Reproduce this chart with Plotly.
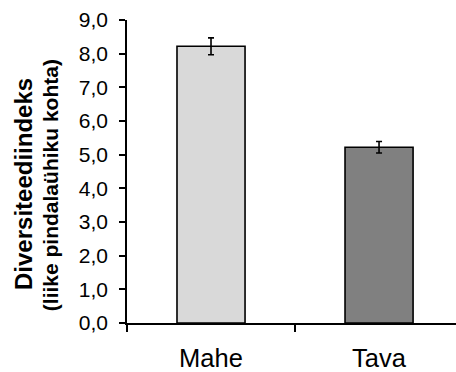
import plotly.graph_objects as go

# Diversity index by farming type
categories = ["Mahe", "Tava"]
diversity = [8.22, 5.22]
std_error = [0.25, 0.17]
bar_colors = ["#D9D9D9", "#808080"]

y_ticks = [0, 1, 2, 3, 4, 5, 6, 7, 8, 9]
y_tick_text = ["0,0", "1,0", "2,0", "3,0", "4,0", "5,0", "6,0", "7,0", "8,0", "9,0"]

x_pos = list(range(len(categories)))
cat_bounds = [-0.5, 0.5]

fig = go.Figure()
fig.add_trace(go.Bar(
    x=x_pos,
    y=diversity,
    width=0.405,
    marker=dict(color=bar_colors, line=dict(color="black", width=1.6)),
    error_y=dict(type="data", array=std_error, visible=True,
                 color="black", thickness=1.6, width=3),
))

font_family = "Liberation Sans, Arial, sans-serif"

fig.update_layout(
    width=456, height=372,
    margin=dict(l=127, r=0, t=20, b=47),
    plot_bgcolor="white", paper_bgcolor="white",
    showlegend=False,
    font=dict(family=font_family, color="black"),
    xaxis=dict(
        range=[-0.5, 1.458],
        tickmode="array", tickvals=x_pos, ticktext=categories,
        ticks="", tickfont=dict(size=25.5),
        ticklabelstandoff=12,
        showline=True, linecolor="black", linewidth=1.6,
        showgrid=False, zeroline=False,
        minor=dict(tickmode="array", tickvals=cat_bounds, ticks="outside",
                   ticklen=7, tickwidth=1.6, tickcolor="black", showgrid=False),
    ),
    yaxis=dict(
        range=[0, 9],
        tickmode="array", tickvals=y_ticks, ticktext=y_tick_text,
        ticks="outside", ticklen=6, tickwidth=1.6, tickcolor="black",
        tickfont=dict(size=21),
        ticklabelstandoff=7,
        showline=True, linecolor="black", linewidth=1.6,
        showgrid=False, zeroline=False,
    ),
    annotations=[
        dict(text="<b>Diversiteediindeks</b>", xref="paper", yref="paper",
             x=-0.315, y=0.46, xanchor="center", yanchor="middle",
             textangle=-90, showarrow=False, font=dict(size=24)),
        dict(text="<b>(liike pindalaühiku kohta)</b>", xref="paper", yref="paper",
             x=-0.234, y=0.455, xanchor="center", yanchor="middle",
             textangle=-90, showarrow=False, font=dict(size=21)),
    ],
)

fig.write_html("out.html")
